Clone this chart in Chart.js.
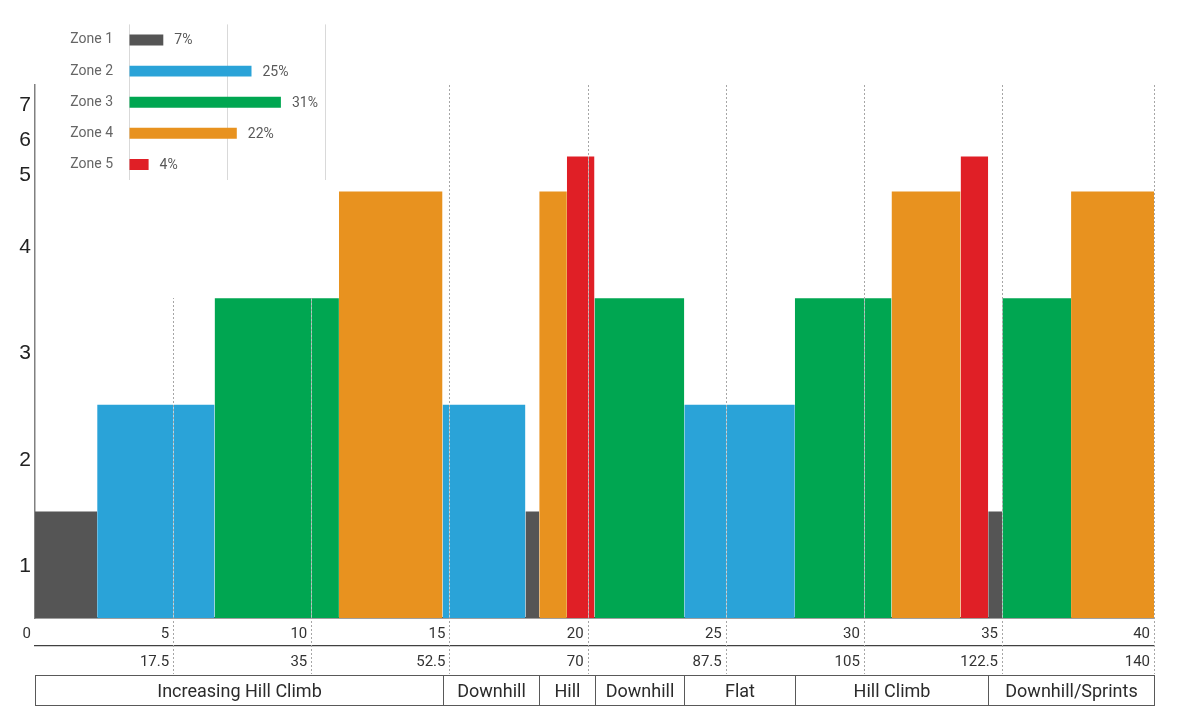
<!DOCTYPE html>
<html lang="en">
<head>
    <meta charset="UTF-8">
    <title>Workout Zones</title>
    <script src="https://cdn.jsdelivr.net/npm/chart.js"></script>
    <style>
        body { margin: 0; background: #fff; }
        .wrap { position: relative; width: 1200px; height: 728px; }
        #inset { position: absolute; left: 40px; top: 0; background: #fff; }
    </style>
</head>
<body>
    <div class="wrap">
        <canvas id="mainChart" width="1200" height="728"></canvas>
        <canvas id="inset" width="298" height="298"></canvas>
    </div>

    <script>
        // zone definitions
        const zoneNames = ['Zone 1', 'Zone 2', 'Zone 3', 'Zone 4', 'Zone 5'];
        const zoneColors = ['#555555', '#2aa3d8', '#00a651', '#e8921f', '#e01f26'];
        const zoneLevels = [1, 2, 3, 4, 4.33];
        const zonePercents = [7, 25, 31, 22, 4];

        // workout blocks (minutes) and the zone of each block
        const blockBounds = [0, 2.25, 6.5, 11, 14.75, 17.75, 18.25, 19.25, 20.25, 23.5, 27.5, 31, 33.5, 34.5, 35, 37.5, 40.5];
        const blockZones = [1, 2, 3, 4, 2, 1, 4, 5, 3, 2, 3, 4, 5, 1, 3, 4];

        // terrain sections along the bottom
        const sectionNames = ['Increasing Hill Climb', 'Downhill', 'Hill', 'Downhill', 'Flat', 'Hill Climb', 'Downhill/Sprints'];
        const sectionBounds = [0, 14.75, 18.25, 20.25, 23.5, 27.5, 34.5, 40.5];

        // axis ticks
        const minuteTicks = [0, 5, 10, 15, 20, 25, 30, 35, 40.5];
        const minuteLabels = ['0', '5', '10', '15', '20', '25', '30', '35', '40'];
        const distanceLabels = ['', '17.5', '35', '52.5', '70', '87.5', '105', '122.5', '140'];
        const yTickPos = [0.5, 1.5, 2.5, 3.5, 4.17, 4.5, 4.83];
        const yTickLabels = ['1', '2', '3', '4', '5', '6', '7'];

        const labelFont = "Roboto, 'Open Sans', sans-serif";

        const datasets = blockZones.map((z, i) => ({
            data: [{ x: blockBounds[i], y: zoneLevels[z - 1] }, { x: blockBounds[i + 1], y: zoneLevels[z - 1] }],
            fill: 'origin',
            backgroundColor: zoneColors[z - 1],
            borderWidth: 0,
            pointRadius: 0
        }));

        // dotted guide lines through plot and label rows
        const guideLines = {
            id: 'guideLines',
            afterDatasetsDraw(chart) {
                const ctx = chart.ctx;
                const xs = chart.scales.x;
                const bottom = chart.scales.x2.bottom;
                ctx.save();
                ctx.lineWidth = 1;
                minuteTicks.slice(1).forEach(v => {
                    const px = Math.round(xs.getPixelForValue(v)) + 0.5;
                    ctx.setLineDash([]);
                    ctx.strokeStyle = 'rgba(255,255,255,0.6)';
                    ctx.beginPath();
                    ctx.moveTo(px, chart.chartArea.top);
                    ctx.lineTo(px, xs.top);
                    ctx.stroke();
                    ctx.setLineDash([2, 2]);
                    ctx.strokeStyle = '#a6a6a6';
                    ctx.beginPath();
                    ctx.moveTo(px, chart.chartArea.top);
                    ctx.lineTo(px, bottom);
                    ctx.stroke();
                });
                ctx.restore();
            }
        };

        // boxed terrain sections under the axes
        const sectionBoxes = {
            id: 'sectionBoxes',
            afterDraw(chart) {
                const ctx = chart.ctx;
                const xs = chart.scales.x;
                const top = chart.scales.x2.bottom + 1;
                const h = 30;
                ctx.save();
                ctx.strokeStyle = '#595959';
                ctx.lineWidth = 1;
                ctx.fillStyle = '#2b2b2b';
                ctx.font = '18px ' + labelFont;
                ctx.textAlign = 'center';
                ctx.textBaseline = 'middle';
                sectionNames.forEach((name, i) => {
                    const x1 = Math.round(xs.getPixelForValue(sectionBounds[i])) + 0.5;
                    const x2 = Math.round(xs.getPixelForValue(sectionBounds[i + 1])) + 0.5;
                    ctx.strokeRect(x1, top + 0.5, x2 - x1, h);
                    ctx.fillText(name, (x1 + x2) / 2, top + h / 2 + 2);
                });
                ctx.restore();
            }
        };

        new Chart(document.getElementById('mainChart'), {
            type: 'line',
            data: { datasets: datasets },
            options: {
                responsive: false,
                animation: false,
                layout: { padding: { top: 85, right: 46, bottom: 54, left: 0 } },
                plugins: { legend: { display: false }, tooltip: { enabled: false } },
                scales: {
                    x: {
                        type: 'linear', min: 0, max: 40.5, position: 'bottom', weight: 0,
                        afterBuildTicks: s => { s.ticks = minuteTicks.map(v => ({ value: v })); },
                        afterFit: s => { s.height = 28; },
                        ticks: {
                            autoSkip: false, maxRotation: 0, align: 'end', labelOffset: -4, padding: 7,
                            callback: (v, i) => minuteLabels[i],
                            font: { family: labelFont, size: 15 }, color: '#333'
                        },
                        grid: { display: false, drawTicks: false },
                        border: { color: '#404040', width: 1.5 }
                    },
                    x2: {
                        type: 'linear', min: 0, max: 40.5, position: 'bottom', weight: 1,
                        afterBuildTicks: s => { s.ticks = minuteTicks.map(v => ({ value: v })); },
                        afterFit: s => { s.height = 28; },
                        ticks: {
                            autoSkip: false, maxRotation: 0, align: 'end', labelOffset: -4, padding: 7,
                            callback: (v, i) => distanceLabels[i],
                            font: { family: labelFont, size: 15 }, color: '#333'
                        },
                        grid: { display: false, drawTicks: false },
                        border: { color: '#404040', width: 1.2 }
                    },
                    y: {
                        min: 0, max: 5,
                        afterBuildTicks: s => { s.ticks = yTickPos.map(v => ({ value: v })); },
                        afterFit: s => { s.width = 35; },
                        ticks: {
                            autoSkip: false, padding: 4, labelOffset: 2,
                            callback: (v, i) => yTickLabels[i],
                            font: { family: "'Liberation Sans', Arial, sans-serif", size: 21 }, color: '#222'
                        },
                        grid: { display: false, drawTicks: false },
                        border: { color: '#808080', width: 1.5 }
                    }
                }
            },
            plugins: [guideLines, sectionBoxes]
        });

        // percent labels on the inset bars
        const percentLabels = {
            id: 'percentLabels',
            afterDatasetsDraw(chart) {
                const ctx = chart.ctx;
                const meta = chart.getDatasetMeta(0);
                ctx.save();
                ctx.fillStyle = '#595959';
                ctx.font = '14px ' + labelFont;
                ctx.textAlign = 'left';
                ctx.textBaseline = 'middle';
                meta.data.forEach((bar, i) => {
                    ctx.fillText(zonePercents[i] + '%', bar.x + 11, bar.y + 1);
                });
                ctx.restore();
            }
        };

        new Chart(document.getElementById('inset'), {
            type: 'bar',
            data: {
                labels: zoneNames,
                datasets: [{
                    data: zonePercents,
                    backgroundColor: zoneColors,
                    barPercentage: 0.35,
                    categoryPercentage: 1
                }]
            },
            options: {
                indexAxis: 'y',
                responsive: false,
                animation: false,
                layout: { padding: { top: 22, right: 13, bottom: 118, left: 0 } },
                plugins: { legend: { display: false }, tooltip: { enabled: false } },
                scales: {
                    x: {
                        min: 0, max: 40,
                        afterBuildTicks: s => { s.ticks = [0, 20, 40].map(v => ({ value: v })); },
                        ticks: { display: false },
                        grid: { color: '#d9d9d9', drawTicks: false },
                        border: { display: false }
                    },
                    y: {
                        afterFit: s => { s.width = 89; },
                        ticks: { padding: 16, font: { family: labelFont, size: 14 }, color: '#666' },
                        grid: { display: false, drawTicks: false },
                        border: { display: false }
                    }
                }
            },
            plugins: [percentLabels]
        });
    </script>
</body>
</html>
